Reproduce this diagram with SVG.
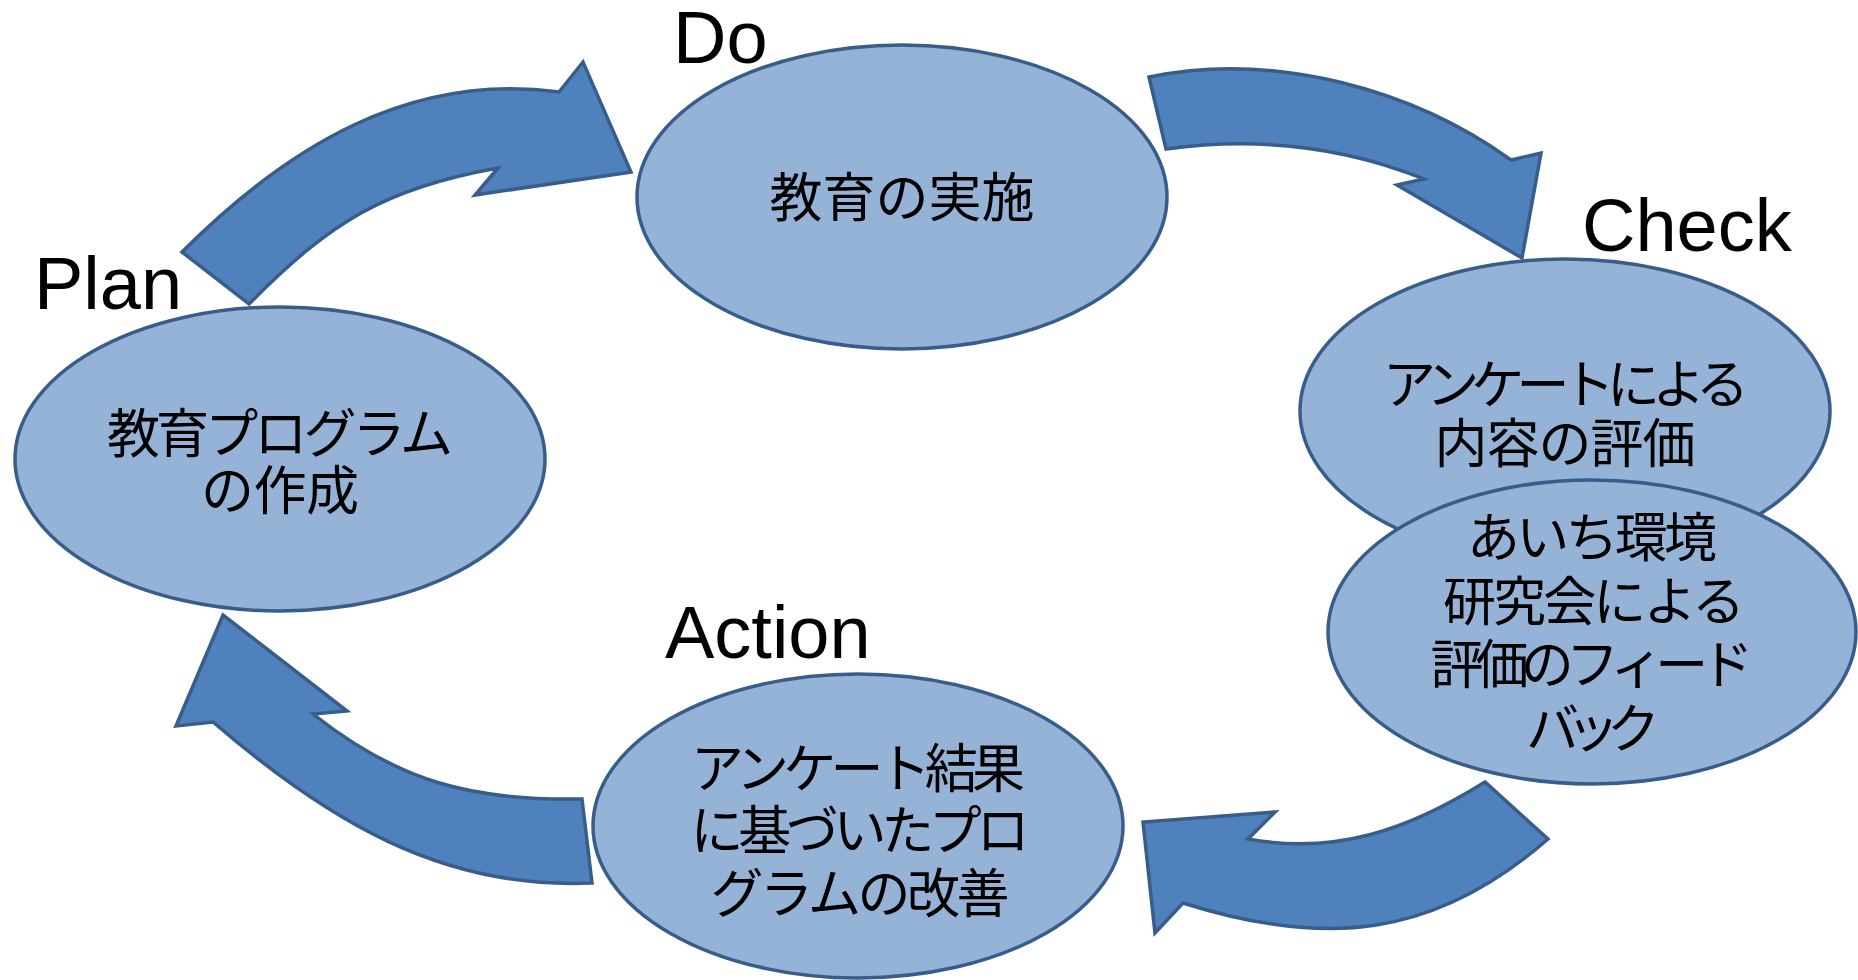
<svg xmlns="http://www.w3.org/2000/svg" width="1858" height="980" viewBox="0 0 1858 980">
<style>
.node{fill:#95B3D7;stroke:#385D8A;stroke-width:3.5}
.arrow{fill:#4F81BD;stroke:#385D8A;stroke-width:3.5;stroke-linejoin:miter}
.lbl{font-family:"Liberation Sans",Arial,sans-serif;font-size:74px;fill:#000}
.jp{font-family:"Noto Sans CJK JP","Noto Sans CJK SC",sans-serif;font-size:53px;fill:#000;text-anchor:middle}
</style>
<rect width="1858" height="980" fill="#fff"/>
<g id="plan">
<ellipse class="node" cx="280" cy="459" rx="265" ry="152"/>
<text class="jp" x="280" y="453" textLength="346" lengthAdjust="spacing">教育プログラム</text>
<text class="jp" x="280" y="510" textLength="158" lengthAdjust="spacing">の作成</text>
</g>
<g id="do">
<ellipse class="node" cx="902" cy="197" rx="265" ry="152"/>
<text class="jp" x="902" y="217" textLength="265" lengthAdjust="spacing">教育の実施</text>
</g>
<g id="check">
<ellipse class="node" cx="1565" cy="411" rx="265" ry="152"/>
<text class="jp" x="1566" y="404" textLength="366" lengthAdjust="spacing">アンケートによる</text>
<text class="jp" x="1565" y="463" textLength="261" lengthAdjust="spacing">内容の評価</text>
</g>
<g id="feedback">
<ellipse class="node" cx="1592" cy="632" rx="264" ry="152"/>
<text class="jp" x="1592" y="557" textLength="250" lengthAdjust="spacing">あいち環境</text>
<text class="jp" x="1594" y="621" textLength="302" lengthAdjust="spacing">研究会による</text>
<text class="jp" x="1592" y="684" textLength="323" lengthAdjust="spacing">評価のフィード</text>
<text class="jp" x="1593" y="748" textLength="134" lengthAdjust="spacing">バック</text>
</g>
<g id="action">
<ellipse class="node" cx="858" cy="826" rx="265" ry="152"/>
<text class="jp" x="858" y="788" textLength="334" lengthAdjust="spacing">アンケート結果</text>
<text class="jp" x="860" y="850" textLength="339" lengthAdjust="spacing">に基づいたプロ</text>
<text class="jp" x="860" y="913" textLength="299" lengthAdjust="spacing">グラムの改善</text>
</g>
<g id="connectors">
<path class="arrow" d="M182,252 C288,146 410,72 559,92 L583,62 L631,172 L475,195 L498,168 C385,188 330,222 249,304 Z"/>
<path class="arrow" d="M1149,77 C1276,51 1414,90 1511,160 L1541,153 L1522,258 L1397,185 L1424,179 C1340,145 1255,137 1166,149 Z"/>
<path class="arrow" d="M1548,839 C1435,938 1325,948 1183,903 L1155,933 L1143,822 L1275,812 L1248,839 C1336,855 1408,830 1485,782 Z"/>
<path class="arrow" d="M592,883 C442,890 327,820 213,722 L176,726 L223,615 L347,711 L313,714 C399,782 472,801 582,799 Z"/>
</g>
<g id="labels">
<text class="lbl" x="673" y="63">Do</text>
<text class="lbl" x="34" y="309">Plan</text>
<text class="lbl" x="1582" y="251">Check</text>
<text class="lbl" x="665" y="658">Action</text>
</g>
</svg>
